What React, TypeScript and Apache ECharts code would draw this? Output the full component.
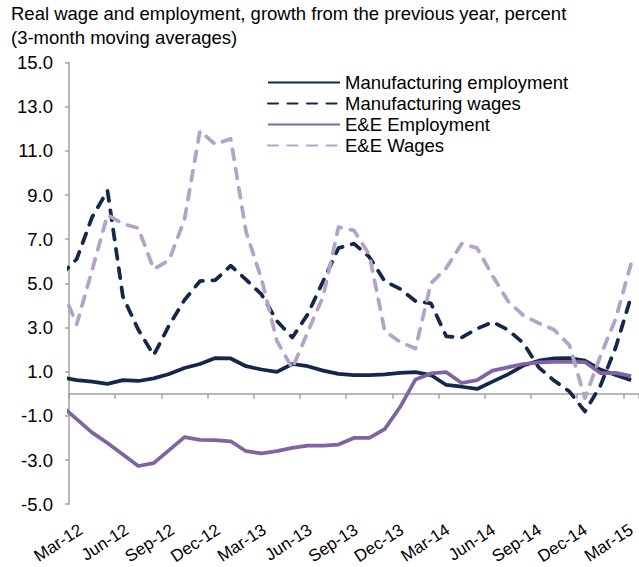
import React, { useEffect, useRef } from 'react';
import * as echarts from 'echarts';

// Months (first one, Feb-12, is only the lead-in that gets clipped at the axis)
const months = [
  'Feb-12', 'Mar-12', 'Apr-12', 'May-12', 'Jun-12', 'Jul-12', 'Aug-12', 'Sep-12', 'Oct-12', 'Nov-12', 'Dec-12',
  'Jan-13', 'Feb-13', 'Mar-13', 'Apr-13', 'May-13', 'Jun-13', 'Jul-13', 'Aug-13', 'Sep-13', 'Oct-13', 'Nov-13', 'Dec-13',
  'Jan-14', 'Feb-14', 'Mar-14', 'Apr-14', 'May-14', 'Jun-14', 'Jul-14', 'Aug-14', 'Sep-14', 'Oct-14', 'Nov-14', 'Dec-14',
  'Jan-15', 'Feb-15', 'Mar-15',
];

const mfgEmployment = [0.75, 0.62, 0.55, 0.45, 0.62, 0.58, 0.7, 0.9, 1.17, 1.35, 1.62, 1.6, 1.25, 1.1, 0.99, 1.35, 1.25, 1.05, 0.9, 0.85, 0.85, 0.88, 0.95, 0.98, 0.85, 0.4, 0.32, 0.22, 0.55, 0.88, 1.28, 1.5, 1.6, 1.62, 1.5, 1.1, 0.85, 0.62];
const mfgWages = [5.4, 6.1, 8.0, 9.2, 4.4, 2.9, 1.75, 3.1, 4.25, 5.1, 5.15, 5.8, 5.17, 4.5, 3.3, 2.55, 3.6, 5.1, 6.6, 6.8, 6.2, 5.1, 4.75, 4.2, 4.1, 2.6, 2.55, 2.95, 3.25, 2.9, 2.3, 1.2, 0.6, 0.1, -0.8, 0.35, 2.1, 4.4];
const eeEmployment = [-0.55, -1.15, -1.76, -2.23, -2.75, -3.27, -3.14, -2.55, -1.96, -2.09, -2.1, -2.15, -2.6, -2.7, -2.6, -2.45, -2.35, -2.35, -2.3, -2.0, -2.0, -1.6, -0.6, 0.65, 0.92, 0.98, 0.49, 0.62, 1.05, 1.2, 1.35, 1.42, 1.45, 1.45, 1.44, 0.94, 0.95, 0.8];
const eeWages = [4.8, 3.15, 5.6, 8.1, 7.7, 7.5, 5.65, 6.05, 7.9, 11.9, 11.3, 11.55, 7.33, 5.2, 2.4, 1.15, 2.8, 4.4, 7.55, 7.4, 6.3, 2.85, 2.35, 2.05, 5.0, 5.7, 6.8, 6.6, 5.35, 4.2, 3.55, 3.2, 2.9, 2.2, -0.2, 1.7, 3.4, 5.9];

const seriesNames = ['Manufacturing employment', 'Manufacturing wages', 'E&E Employment', 'E&E Wages'];
const titleLines = ['Real wage and employment, growth from the previous year, percent', '(3-month moving averages)'];

const FONT = '"Liberation Sans", Arial, sans-serif';
const NAVY = '#14284b';
const PURPLE = '#8064a2';
const LILAC = '#b3a2c9';
const AXIS = '#a0a0a0';

function toPoints(values: number[]) {
  // month index i (0 = Feb-12) is drawn mid-month: x = i - 0.5 (Mar-12 at 0.5)
  return values.map((v, i) => [i - 0.5, v]);
}

export default function App() {
  const ref = useRef<HTMLDivElement>(null);

  useEffect(() => {
    if (!ref.current) return;
    const chart = echarts.init(ref.current, null, { renderer: 'svg' });
    const dash = [10, 9.5];
    const lw = 3.75;
    const mk = (name: string, data: number[], color: string, dashed: boolean) => ({
      name,
      type: 'line',
      xAxisIndex: 0,
      yAxisIndex: 0,
      data: toPoints(data),
      symbol: 'none',
      clip: true,
      lineStyle: { color, width: lw, type: dashed ? dash : 'solid', cap: dashed ? 'round' : 'butt', join: 'round' },
      itemStyle: { color },
    });

    chart.setOption({
      animation: false,
      backgroundColor: '#ffffff',
      textStyle: { fontFamily: FONT },
      title: {
        text: titleLines.join('\n'),
        left: 11,
        top: 1,
        padding: 0,
        textStyle: { fontSize: 18.5, fontWeight: 'normal', color: '#000', fontFamily: FONT, lineHeight: 24 },
      },
      legend: {
        orient: 'vertical',
        left: 262,
        top: 68,
        itemWidth: 72,
        itemHeight: 14,
        itemGap: 2,
        data: seriesNames,
        itemStyle: { opacity: 0, borderWidth: 0 },
        textStyle: { fontSize: 18.5, color: '#000', fontFamily: FONT, lineHeight: 19 },
      },
      grid: [
        { left: 69, right: 0.2, top: 62.6, bottom: 62.8, containLabel: false },
        { left: 73.3, right: -4.1, top: 62.6, bottom: 62.8, containLabel: false },
      ],
      xAxis: [
        {
          type: 'value',
          gridIndex: 0,
          min: 0,
          max: 37,
          interval: 3,
          position: 'bottom',
          axisLine: { show: true, onZero: true, lineStyle: { color: AXIS, width: 1.5 } },
          axisTick: { show: true, inside: false, length: 5, lineStyle: { color: AXIS, width: 1.5 } },
          axisLabel: { show: false },
          splitLine: { show: false },
        },
        {
          type: 'category',
          gridIndex: 1,
          data: months.slice(1),
          boundaryGap: true,
          position: 'bottom',
          axisLine: { show: false, onZero: false },
          axisTick: { show: false },
          splitLine: { show: false },
          axisLabel: {
            interval: 2,
            rotate: 33,
            margin: 24,
            fontSize: 17,
            color: '#000',
            fontFamily: FONT,
            showMinLabel: true,
            showMaxLabel: true,
            hideOverlap: false,
          },
        },
      ],
      yAxis: [
        {
          type: 'value',
          gridIndex: 0,
          min: -5,
          max: 15,
          interval: 2,
          axisLine: { show: true, lineStyle: { color: AXIS, width: 1.5 } },
          axisTick: { show: true, inside: false, length: 4, lineStyle: { color: AXIS, width: 1.5 } },
          splitLine: { show: false },
          axisLabel: {
            margin: 16,
            fontSize: 18.5,
            color: '#000',
            fontFamily: FONT,
            formatter: (v: number) => v.toFixed(1),
          },
        },
        {
          type: 'value',
          gridIndex: 1,
          show: false,
          min: 0,
          max: 1,
          splitLine: { show: false },
        },
      ],
      series: [
        mk(seriesNames[0], mfgEmployment, NAVY, false),
        mk(seriesNames[1], mfgWages, NAVY, true),
        mk(seriesNames[2], eeEmployment, PURPLE, false),
        mk(seriesNames[3], eeWages, LILAC, true),
      ],
    });
    return () => chart.dispose();
  }, []);

  return <div ref={ref} style={{ position: 'absolute', left: 0, top: 0, width: 639, height: 567 }} />;
}
